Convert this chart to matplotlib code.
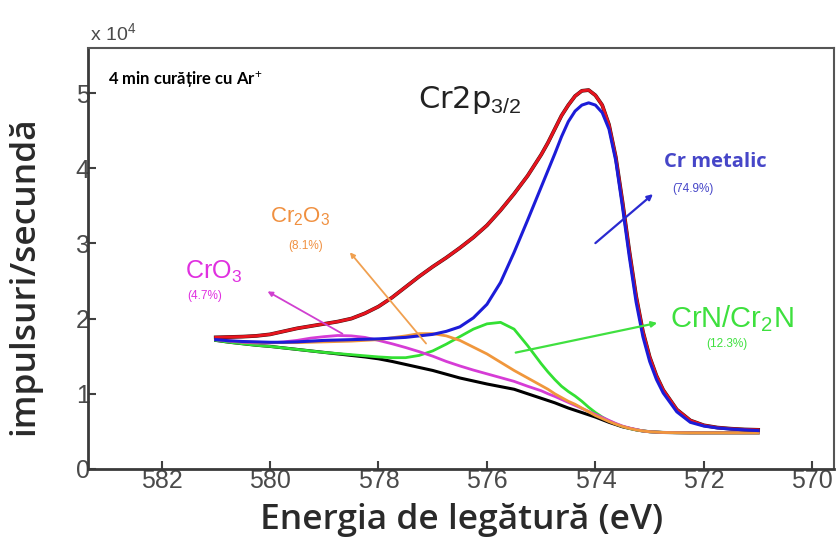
import matplotlib
matplotlib.use("Agg")
from matplotlib import pyplot as plt

plt.rcParams['font.family'] = 'Liberation Sans'
plt.rcParams['mathtext.fontset'] = 'custom'
plt.rcParams['mathtext.rm'] = 'Liberation Sans'
plt.rcParams['mathtext.it'] = 'Liberation Sans:italic'
plt.rcParams['mathtext.bf'] = 'Liberation Sans:bold'

# Cr2p3/2 spectrum after 4 min Ar+ cleaning, counts in units of 1e4
energy = [581.0, 580.75, 580.5, 580.25, 580.0, 579.75, 579.5, 579.25, 579.0, 578.75,
          578.5, 578.25, 578.0, 577.75, 577.5, 577.25, 577.0, 576.75, 576.5, 576.25,
          576.0, 575.75, 575.5, 575.25, 575.0, 574.875, 574.75, 574.625, 574.5, 574.375,
          574.25, 574.125, 574.0, 573.875, 573.75, 573.625, 573.5, 573.375, 573.25, 573.125,
          573.0, 572.875, 572.75, 572.5, 572.25, 572.0, 571.75, 571.5, 571.25, 571.0]

background = [1.71, 1.685, 1.665, 1.645, 1.63, 1.61, 1.59, 1.57, 1.55, 1.53,
              1.51, 1.49, 1.465, 1.43, 1.39, 1.35, 1.31, 1.26, 1.21, 1.17,
              1.13, 1.095, 1.06, 1.0, 0.94, 0.91, 0.88, 0.845, 0.81, 0.78,
              0.75, 0.72, 0.69, 0.655, 0.62, 0.59, 0.56, 0.54, 0.52, 0.505,
              0.495, 0.49, 0.485, 0.482, 0.48, 0.48, 0.48, 0.48, 0.48, 0.48]

cr_metal = [1.72, 1.705, 1.695, 1.69, 1.685, 1.685, 1.69, 1.70, 1.71, 1.715,
            1.72, 1.725, 1.73, 1.74, 1.75, 1.77, 1.79, 1.83, 1.89, 2.01,
            2.19, 2.48, 2.88, 3.31, 3.75, 3.97, 4.19, 4.42, 4.62, 4.76,
            4.84, 4.87, 4.84, 4.74, 4.52, 4.10, 3.48, 2.82, 2.22, 1.76,
            1.43, 1.19, 1.01, 0.76, 0.62, 0.57, 0.545, 0.53, 0.52, 0.51]

crn = [1.71, 1.685, 1.665, 1.645, 1.63, 1.61, 1.59, 1.57, 1.55, 1.535,
       1.52, 1.505, 1.49, 1.48, 1.48, 1.51, 1.57, 1.66, 1.76, 1.86,
       1.93, 1.95, 1.86, 1.64, 1.40, 1.29, 1.19, 1.10, 1.03, 0.97,
       0.90, 0.82, 0.75, 0.69, 0.64, 0.60, 0.565, 0.54, 0.52, 0.505,
       0.495, 0.49, 0.485, 0.482, 0.48, 0.48, 0.48, 0.48, 0.48, 0.48]

cr2o3 = [1.72, 1.705, 1.69, 1.685, 1.68, 1.68, 1.68, 1.685, 1.69, 1.695,
         1.70, 1.71, 1.72, 1.745, 1.77, 1.80, 1.80, 1.77, 1.71, 1.62,
         1.53, 1.42, 1.31, 1.21, 1.11, 1.06, 1.0, 0.95, 0.90, 0.86,
         0.81, 0.76, 0.71, 0.67, 0.63, 0.595, 0.565, 0.54, 0.52, 0.505,
         0.495, 0.49, 0.485, 0.482, 0.48, 0.48, 0.48, 0.48, 0.48, 0.48]

cro3 = [1.72, 1.70, 1.685, 1.675, 1.675, 1.69, 1.71, 1.74, 1.76, 1.775,
        1.77, 1.75, 1.71, 1.665, 1.615, 1.56, 1.50, 1.43, 1.37, 1.315,
        1.265, 1.215, 1.165, 1.10, 1.04, 1.0, 0.965, 0.925, 0.885, 0.845,
        0.805, 0.765, 0.725, 0.685, 0.645, 0.605, 0.57, 0.545, 0.525, 0.505,
        0.495, 0.49, 0.485, 0.482, 0.48, 0.48, 0.48, 0.48, 0.48, 0.48]

envelope = [1.75, 1.755, 1.76, 1.77, 1.79, 1.83, 1.87, 1.90, 1.93, 1.96,
            2.00, 2.07, 2.16, 2.28, 2.42, 2.56, 2.69, 2.81, 2.94, 3.08,
            3.24, 3.44, 3.66, 3.90, 4.18, 4.34, 4.52, 4.70, 4.84, 4.96,
            5.03, 5.04, 4.97, 4.84, 4.58, 4.15, 3.55, 2.90, 2.30, 1.83,
            1.49, 1.24, 1.05, 0.79, 0.645, 0.58, 0.55, 0.535, 0.525, 0.52]

xticks = [582, 580, 578, 576, 574, 572, 570]
yticks = [0, 1, 2, 3, 4, 5]

fig = plt.figure(figsize=(8.37, 5.39), dpi=100)
ax = fig.add_axes([0.1055, 0.130, 0.891, 0.781])

ax.plot(energy, background, color='black', lw=2.2)
ax.plot(energy, crn, color='#33e033', lw=2.0)
ax.plot(energy, cro3, color='#d63cd6', lw=2.0)
ax.plot(energy, cr2o3, color='#f0973c', lw=2.0)
ax.plot(energy, envelope, color='#3a1010', lw=2.7)
ax.plot(energy, envelope, color='#e8141e', lw=2.1)
ax.plot(energy, cr_metal, color='#1c1cd8', lw=2.2)

ax.set_xlim(583.35, 569.6)
ax.set_ylim(0, 5.6)
ax.set_xticks(xticks)
ax.set_yticks(yticks)
ax.tick_params(axis='both', direction='in', length=6, width=1.5, color='#404040',
               labelsize=18, labelcolor='#4a4a4a', pad=0)
ax.tick_params(axis='y', pad=-1)
for side in ['left', 'bottom']:
    ax.spines[side].set_linewidth(2)
    ax.spines[side].set_color('#3a3a3a')
for side in ['top', 'right']:
    ax.spines[side].set_linewidth(1.5)
    ax.spines[side].set_color('#555555')

ax.set_xlabel('Energia de legătură (eV)', fontsize=25.5, fontweight='semibold',
              family='Open Sans', color='#2a2a2a', labelpad=7)
ax.set_ylabel('impulsuri/secundă', fontsize=25.5, fontweight='semibold',
              family='Open Sans', color='#2a2a2a')
ax.yaxis.set_label_coords(-0.063, 0.46)

fig.text(0.107, 0.925, r'x 10$^4$', fontsize=14, color='#4a4a4a')
ax.text(0.027, 0.924, '4 min curățire cu Ar$^{+}$', transform=ax.transAxes,
        fontsize=12, fontweight='bold', family='Lato', va='center')
ax.text(577.27, 4.91, r'Cr2p$_{3/2}$', fontsize=22, family='DejaVu Sans',
        color='#222222', va='center')

# peak labels with arrows pointing from the curves to the text
ax.annotate('', xy=(572.90, 3.68), xytext=(574.04, 2.98),
            arrowprops=dict(arrowstyle='-|>', color='#2a2ad0', lw=1.6, mutation_scale=8))
ax.text(572.73, 4.08, 'Cr metalic', fontsize=14.5, fontweight='bold', family='Open Sans',
        color='#4646c8', va='center')
ax.text(572.58, 3.73, '(74.9%)', fontsize=8.5, color='#4646c8', va='center')

ax.annotate('', xy=(572.81, 1.95), xytext=(575.52, 1.54),
            arrowprops=dict(arrowstyle='-|>', color='#40e040', lw=1.6, mutation_scale=8))
ax.text(572.62, 2.0, r'CrN/Cr$_2$N', fontsize=21, color='#3ee03e', va='center')
ax.text(571.95, 1.66, '(12.3%)', fontsize=8.5, color='#3ee03e', va='center')

ax.annotate('', xy=(578.56, 2.91), xytext=(577.09, 1.64),
            arrowprops=dict(arrowstyle='-|>', color='#f0a050', lw=1.3, mutation_scale=7))
ax.text(580.0, 3.35, r'Cr$_2$O$_3$', fontsize=16, color='#f09040', va='center')
ax.text(579.67, 2.96, '(8.1%)', fontsize=8.5, color='#f09040', va='center')

ax.annotate('', xy=(580.09, 2.38), xytext=(578.62, 1.78),
            arrowprops=dict(arrowstyle='-|>', color='#d040d0', lw=1.3, mutation_scale=7))
ax.text(581.57, 2.62, r'CrO$_3$', fontsize=18, color='#e030e0', va='center')
ax.text(581.53, 2.30, '(4.7%)', fontsize=8.5, color='#e030e0', va='center')

fig.savefig('out.png', dpi=100)
